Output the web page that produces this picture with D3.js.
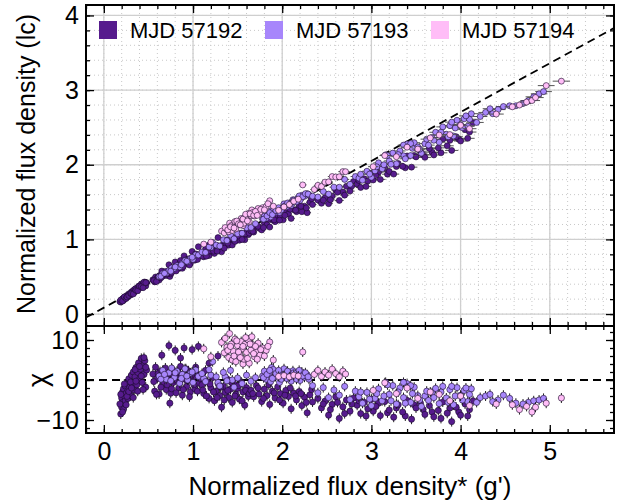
<!DOCTYPE html>
<html><head><meta charset="utf-8">
<script src="https://cdn.jsdelivr.net/npm/d3@7"></script>
<style>
body{margin:0;background:#fff;}
text{font-family:"Liberation Sans",Arial,Helvetica,sans-serif;fill:#000;}
</style>
</head><body><svg id="c" width="624" height="500"></svg>
<script>
const seriesNames = ["MJD 57192", "MJD 57193", "MJD 57194"];
const seriesColors = ["#561b8d", "#a786fb", "#ffbdf7"];
// each point: [flux g' (x), flux lc (y), chi]
const mjd57192 = [
[0.19,0.160,-8.5],[0.20,0.175,-6.8],[0.20,0.189,-4.5],[0.21,0.204,-3.0],[0.21,0.188,-5.6],[0.22,0.183,-7.4],[0.22,0.215,-2.2],[0.23,0.211,-4.0],[0.24,0.233,-1.5],[0.24,0.209,-5.2],[0.25,0.228,-3.3],[0.26,0.250,-0.8],[0.27,0.245,-2.6],[0.27,0.231,-4.6],[0.28,0.270,0.3],[0.29,0.263,-1.8],[0.30,0.254,-3.9],[0.31,0.297,1.2],[0.32,0.288,-0.9],[0.33,0.316,2.0],[0.34,0.289,-2.5],[0.35,0.320,0.8],[0.36,0.344,3.1],[0.37,0.318,-1.2],[0.38,0.349,1.9],[0.39,0.374,4.3],[0.40,0.349,0.2],[0.41,0.375,2.7],[0.42,0.404,5.4],[0.43,0.362,-0.6],[0.44,0.403,3.6],[0.45,0.392,1.4],[0.46,0.428,4.8],[0.47,0.377,-1.8],[0.48,0.421,2.5],
[0.18,0.168,-6.0],[0.19,0.188,-3.6],[0.21,0.174,-8.0],[0.23,0.229,-1.0],[0.25,0.208,-6.2],[0.26,0.228,-4.1],[0.28,0.249,-2.9],[0.30,0.278,-0.5],[0.31,0.274,-2.0],[0.33,0.269,-4.4],[0.35,0.334,2.6],[0.36,0.318,-0.3],[0.38,0.312,-2.8],[0.40,0.374,3.4],[0.42,0.368,1.0],[0.44,0.353,-2.4],[0.45,0.427,5.6],[0.47,0.421,3.2],
[0.55,0.459,1.5],[0.57,0.431,-2.8],[0.58,0.496,3.2],[0.60,0.482,0.4],[0.62,0.455,-3.5],[0.63,0.519,2.1],[0.65,0.576,6.2],[0.66,0.507,-1.0],[0.68,0.550,1.8],[0.70,0.517,-2.4],[0.72,0.567,0.9],[0.73,0.660,8.6],[0.74,0.504,-5.8],[0.75,0.538,-3.3],[0.77,0.620,2.6],[0.78,0.589,-0.6],[0.80,0.698,7.4],[0.82,0.637,1.2],[0.84,0.610,-2.0],[0.86,0.691,3.4],[0.86,0.717,5.5],[0.88,0.613,-3.8],[0.90,0.779,8.0],[0.91,0.684,0.2],[0.93,0.673,-1.6],[0.95,0.738,2.3],[0.97,0.679,-3.0],[0.99,0.839,7.6],[1.00,0.751,0.8],[1.02,0.722,-2.2],[1.04,0.789,1.6],[1.06,0.902,8.4],[1.07,0.774,-0.8],
[0.56,0.448,-0.4],[0.59,0.436,-3.6],[0.61,0.501,1.6],[0.64,0.485,-1.8],[0.67,0.530,0.6],[0.69,0.570,3.0],[0.71,0.537,-1.2],[0.74,0.586,1.4],[0.76,0.557,-2.2],[0.79,0.603,0.0],[0.81,0.577,-3.2],[0.83,0.653,2.0],[0.85,0.632,-0.8],[0.87,0.668,1.0],[0.89,0.637,-2.4],[0.92,0.725,2.8],[0.94,0.698,-0.2],[0.96,0.657,-4.2],[0.98,0.743,1.2],[1.01,0.730,-1.2],[1.03,0.805,3.2],[1.05,0.732,-2.8],[1.08,0.798,0.4],
[1.10,0.788,-1.2],[1.12,0.767,-3.4],[1.14,0.869,2.4],[1.16,0.839,-0.4],[1.18,0.785,-4.6],[1.18,0.924,4.2],[1.20,0.839,-2.0],[1.22,0.894,0.6],[1.24,0.812,-5.2],[1.26,0.864,-2.8],[1.28,0.908,-0.9],[1.28,1.024,6.0],[1.30,0.870,-3.9],[1.32,0.833,-6.8],[1.34,0.935,-1.6],[1.36,0.921,-3.1],[1.38,0.994,0.3],[1.40,0.923,-4.4],[1.42,0.973,-2.3],[1.44,0.925,-5.6],[1.46,1.022,-1.0],[1.48,0.987,-3.6],[1.50,1.028,-2.1],[1.52,0.989,-4.8],[1.54,1.084,-0.5],[1.56,1.048,-3.0],[1.58,0.995,-6.3],[1.60,1.095,-1.9],[1.62,1.063,-4.1],
[1.11,0.774,-2.5],[1.15,0.776,-4.0],[1.19,0.849,-1.0],[1.23,0.842,-3.0],[1.27,0.843,-4.4],[1.31,0.912,-1.8],[1.35,0.882,-5.0],[1.39,0.949,-2.6],[1.43,1.011,-0.6],[1.47,0.973,-4.0],[1.51,1.047,-1.4],[1.55,0.999,-5.2],[1.59,1.075,-2.6],[1.63,1.084,-3.4],
[1.65,1.113,-2.6],[1.68,1.098,-4.2],[1.71,1.175,-1.4],[1.74,1.150,-3.5],[1.77,1.127,-5.4],[1.80,1.213,-2.3],[1.83,1.197,-3.9],[1.86,1.165,-6.1],[1.89,1.259,-2.8],[1.92,1.238,-4.5],[1.95,1.322,-1.7],[1.98,1.301,-3.4],[2.01,1.262,-5.8],[2.04,1.358,-2.6],[2.07,1.340,-4.1],[2.10,1.281,-7.2],[2.13,1.397,-3.3],[2.16,1.372,-5.0],[2.19,1.444,-2.9],[2.22,1.371,-6.4],[2.25,1.445,-4.3],[2.28,1.358,-8.2],[2.31,1.498,-3.7],[2.34,1.467,-5.5],
[1.67,1.109,-3.4],[1.73,1.175,-2.0],[1.79,1.157,-4.6],[1.85,1.270,-1.2],[1.91,1.262,-3.2],[1.97,1.257,-5.0],[2.03,1.322,-3.8],[2.09,1.404,-2.0],[2.15,1.391,-4.0],[2.21,1.444,-3.4],[2.27,1.422,-5.6],[2.33,1.546,-2.4],
[2.40,1.528,-4.6],[2.44,1.484,-7.0],[2.48,1.557,-5.3],[2.52,1.479,-8.8],[2.56,1.581,-6.1],[2.60,1.662,-4.2],[2.64,1.522,-9.6],[2.68,1.634,-6.7],[2.72,1.711,-5.0],[2.76,1.647,-7.8],[2.80,1.775,-4.5],[2.84,1.741,-6.3],[2.88,1.696,-8.4],[2.92,1.812,-5.6],[2.96,1.782,-7.2],[3.00,1.887,-4.8],
[2.46,1.525,-6.0],[2.54,1.531,-7.4],[2.62,1.632,-5.6],[2.70,1.593,-8.4],[2.78,1.715,-6.0],[2.86,1.789,-5.2],[2.94,1.710,-9.0],[3.02,1.796,-7.8],[3.08,1.900,-5.8],[3.18,1.874,-8.2],[3.28,1.976,-7.0],[3.38,1.959,-9.0],[3.48,2.124,-6.2],[3.58,2.135,-7.4],[3.68,2.169,-8.0],[3.78,2.160,-9.6],[3.88,2.327,-7.0],[3.98,2.342,-8.0],[4.08,2.354,-9.0],
[3.05,1.855,-6.6],[3.10,1.804,-8.9],[3.15,1.956,-5.4],[3.20,1.911,-7.5],[3.25,1.875,-9.3],[3.30,2.017,-6.2],[3.35,1.979,-8.0],[3.40,2.118,-5.1],[3.45,1.968,-9.8],[3.50,2.105,-7.0],[3.55,2.181,-5.8],[3.60,2.099,-8.6],[3.65,2.217,-6.4],[3.70,2.131,-9.2],[3.75,2.226,-7.6],[3.80,2.343,-5.5],[3.85,2.254,-8.3],[3.90,2.192,-10.4],[3.95,2.376,-6.8],[4.00,2.318,-8.8],[4.05,2.471,-6.0],[4.10,2.438,-7.4],[4.14,2.561,-5.2]
];
const mjd57193 = [
[0.62,0.501,1.0],[0.66,0.543,2.4],[0.70,0.546,0.2],[0.73,0.584,1.8],[0.76,0.618,3.0],[0.79,0.610,0.6],[0.82,0.649,2.2],[0.85,0.632,-0.8],[0.88,0.679,1.4],[0.91,0.718,2.8],[0.94,0.701,0.0],[0.97,0.744,1.7],[1.00,0.732,-0.6],[1.03,0.795,2.5],[1.06,0.792,0.9],
[0.64,0.506,0.2],[0.68,0.545,1.4],[0.75,0.574,-0.2],[0.80,0.631,1.8],[0.87,0.660,0.4],[0.93,0.707,1.0],[0.99,0.761,2.0],[1.12,0.825,0.4],[1.20,0.890,1.2],[1.28,0.913,-0.6],[1.36,0.990,0.8],[1.44,1.028,0.0],
[1.10,0.830,1.6],[1.14,0.826,-0.4],[1.18,0.899,2.6],[1.22,0.959,4.6],[1.26,0.924,0.8],[1.30,0.911,-1.5],[1.34,0.996,1.9],[1.38,0.985,-0.2],[1.42,1.059,2.4],[1.46,1.008,-1.8],[1.50,1.077,0.5],[1.55,1.083,-0.9],[1.60,1.157,1.2],[1.65,1.160,-0.3],[1.70,1.211,0.6],
[1.78,1.273,1.0],[1.80,1.312,2.2],[1.82,1.282,0.2],[1.85,1.333,1.6],[1.87,1.301,-0.4],[1.88,1.387,3.1],[1.90,1.389,2.6],[1.92,1.361,0.8],[1.95,1.407,1.9],[1.97,1.361,-0.6],[2.00,1.424,1.2],[2.02,1.476,2.8],[2.05,1.438,0.4],[2.07,1.483,1.7],[2.10,1.453,-0.3],[2.12,1.532,2.3],[2.15,1.516,0.9],[2.17,1.545,1.5],[2.20,1.523,-0.1],[2.22,1.591,2.0],[2.25,1.577,0.7],[2.28,1.613,1.3],[2.30,1.597,0.2],
[1.79,1.271,0.6],[1.83,1.315,1.4],[1.86,1.358,2.4],[1.89,1.332,0.4],[1.93,1.386,1.6],[1.96,1.425,2.4],[1.99,1.393,0.2],[2.03,1.449,1.4],[2.06,1.488,2.2],[2.09,1.474,0.8],[2.13,1.526,1.8],[2.16,1.505,0.2],[2.19,1.582,2.4],[2.23,1.572,1.0],[2.26,1.613,1.8],[2.29,1.607,0.8],
[2.34,1.579,-1.4],[2.40,1.567,-3.2],[2.46,1.642,-1.9],[2.52,1.607,-4.4],[2.58,1.700,-2.5],[2.64,1.699,-3.8],[2.70,1.804,-1.6],[2.76,1.738,-4.9],[2.82,1.842,-2.8],
[2.86,1.821,-4.2],[2.90,1.793,-5.8],[2.95,1.913,-3.1],[3.00,1.832,-6.4],[3.04,1.918,-4.6],[3.08,2.026,-2.2],[3.12,1.946,-5.2],[3.16,2.133,-0.6],[3.20,2.051,-3.6],[3.24,2.156,-1.4],[3.28,2.013,-6.0],[3.32,2.185,-2.0],[3.36,2.120,-4.4],[3.40,2.278,-0.9],[3.44,2.123,-5.6],[3.48,2.295,-1.8],[3.52,2.238,-3.9],[3.56,2.155,-6.6],[3.60,2.283,-4.0],[3.64,2.263,-5.1],[3.68,2.365,-3.2],[3.72,2.435,-2.1],[3.76,2.302,-5.9],[3.80,2.507,-1.6],[3.84,2.409,-4.5],[3.88,2.524,-2.4],[3.92,2.385,-6.2],[3.96,2.596,-1.9],[4.00,2.538,-3.8],[4.04,2.616,-2.6],[4.08,2.515,-5.4],[4.12,2.684,-2.2],
[2.88,1.873,-3.0],[2.98,1.875,-4.8],[3.06,1.972,-3.4],[3.14,2.000,-4.0],[3.22,2.006,-5.2],[3.30,2.136,-3.0],[3.38,2.080,-5.8],[3.46,2.220,-3.4],[3.54,2.207,-5.0],[3.62,2.343,-2.8],[3.70,2.328,-4.4],[3.78,2.436,-3.0],[3.86,2.374,-5.6],[3.94,2.492,-4.0],[4.02,2.497,-5.0],[4.10,2.609,-3.6],[3.18,2.125,-1.2],[3.36,2.263,-0.6],[3.44,2.284,-1.4],[3.90,2.571,-1.6],[4.06,2.655,-2.0],
[4.18,2.567,-5.6],[4.22,2.646,-4.4],[4.28,2.701,-4.0],[4.33,2.751,-3.6],[4.36,2.684,-5.4],[4.42,2.739,-5.0],[4.48,2.780,-3.8],[4.55,2.790,-4.6],[4.62,2.790,-5.8],[4.70,2.820,-6.0],[4.76,2.860,-5.6],[4.82,2.910,-5.2],[4.88,2.950,-5.0],[4.93,2.980,-4.6]
];
const mjd57194 = [
[1.12,0.937,7.8],[1.20,0.964,5.8],[1.32,1.111,9.4],[1.35,1.088,6.8],[1.38,1.135,8.2],[1.40,1.103,5.6],[1.41,1.218,11.6],[1.43,1.186,9.0],[1.44,1.120,5.0],[1.45,1.168,7.2],[1.47,1.239,10.2],[1.48,1.141,4.6],[1.50,1.231,8.6],[1.52,1.204,6.4],[1.54,1.280,9.6],[1.55,1.252,7.8],[1.56,1.185,4.0],[1.57,1.216,5.2],[1.58,1.296,8.9],[1.60,1.271,6.9],[1.62,1.348,10.0],[1.63,1.238,4.2],[1.65,1.319,7.5],[1.66,1.395,10.8],[1.67,1.361,8.8],[1.69,1.313,5.8],[1.71,1.353,7.0],[1.73,1.414,9.2],[1.75,1.364,6.2],[1.78,1.425,8.0],[1.82,1.441,7.4],[1.86,1.518,9.5],[1.90,1.445,5.0],
[1.36,1.159,10.4],[1.39,1.128,7.4],[1.42,1.168,8.4],[1.46,1.153,6.0],[1.49,1.246,9.8],[1.51,1.208,7.0],[1.53,1.195,5.6],[1.56,1.272,8.4],[1.59,1.337,10.6],[1.61,1.248,5.4],[1.64,1.343,9.0],[1.68,1.323,6.6],[1.70,1.375,8.4],[1.72,1.322,5.2],[1.76,1.402,7.6],[1.80,1.396,6.0],[1.84,1.478,8.4],
[1.96,1.390,0.9],[2.02,1.435,1.1],[2.08,1.467,0.8],[2.13,1.510,1.2],[2.18,1.539,1.0],[2.23,1.730,7.0],
[2.36,1.669,1.4],[2.40,1.724,2.4],[2.44,1.709,0.9],[2.48,1.767,2.0],[2.52,1.771,1.2],[2.56,1.842,2.7],[2.60,1.836,1.6],[2.64,1.839,0.8],[2.68,1.908,2.2],[2.71,1.907,1.5],
[3.02,1.974,-2.6],[3.15,2.123,-0.7],[3.28,2.108,-3.4],[3.40,2.236,-2.0],[3.52,2.210,-4.6],[3.66,2.360,-3.0],[3.76,2.398,-3.6],[3.88,2.404,-5.2],[4.00,2.529,-4.0],[4.10,2.483,-6.4],[4.40,2.679,-6.0],[4.58,2.776,-6.2],[4.66,2.800,-7.4],[4.74,2.840,-6.6],[4.80,2.860,-8.0],[4.84,2.900,-6.8],[4.96,3.060,-5.8],[5.13,3.120,-4.5]
];
const allSeries = [mjd57192, mjd57193, mjd57194];
const xMajorTicks = [0, 1, 2, 3, 4, 5];
const yTopMajorTicks = [0, 1, 2, 3, 4];
const yBotMajorTicks = [-10, 0, 10];
const refSlope = 0.655, refIntercept = 0.085;   // dashed reference line in the upper panel
const chiErr = 1.25, xErrFrac = 0.019, yErrFrac = 0.012;

const svg = d3.select("#c");
const L = 86, R = 614, T = 5, M = 326, B = 433;
const x = d3.scaleLinear().domain([-0.2, 5.72]).range([L, R]);
const yT = d3.scaleLinear().domain([-0.16, 4.14]).range([M, T]);
const yB = d3.scaleLinear().domain([-13.25, 13.5]).range([B, M]);
const fmtInt = d3.format("d");

const defs = svg.append("defs");
defs.append("clipPath").attr("id","cpT").append("rect").attr("x",L).attr("y",T).attr("width",R-L).attr("height",M-T);
defs.append("clipPath").attr("id","cpB").append("rect").attr("x",L).attr("y",M).attr("width",R-L).attr("height",B-M);

const xMinor = d3.range(-0.2, 5.71, 0.2).map(v => +v.toFixed(1));
const yTMinor = d3.range(0, 4.15, 0.2).map(v => +v.toFixed(1));
const yBMinor = d3.range(-12, 13, 2);

// grid (upper panel only)
const grid = svg.append("g").attr("clip-path","url(#cpT)");
grid.selectAll(".gxm").data(xMinor).enter().append("line")
  .attr("x1", d=>x(d)).attr("x2", d=>x(d)).attr("y1", T).attr("y2", M)
  .attr("stroke","#c8c8c8").attr("stroke-width",1).attr("stroke-dasharray","1,3");
grid.selectAll(".gym").data(yTMinor).enter().append("line")
  .attr("y1", d=>yT(d)).attr("y2", d=>yT(d)).attr("x1", L).attr("x2", R)
  .attr("stroke","#c8c8c8").attr("stroke-width",1).attr("stroke-dasharray","1,3");
grid.selectAll(".gx").data(xMajorTicks).enter().append("line")
  .attr("x1", d=>x(d)).attr("x2", d=>x(d)).attr("y1", T).attr("y2", M)
  .attr("stroke","#cfcfcf").attr("stroke-width",1.3);
grid.selectAll(".gy").data(yTopMajorTicks).enter().append("line")
  .attr("y1", d=>yT(d)).attr("y2", d=>yT(d)).attr("x1", L).attr("x2", R)
  .attr("stroke","#cfcfcf").attr("stroke-width",1.3);

// reference lines
svg.append("line").attr("clip-path","url(#cpT)")
  .attr("x1", x(-0.2)).attr("y1", yT(refIntercept + refSlope*-0.2))
  .attr("x2", x(5.72)).attr("y2", yT(refIntercept + refSlope*5.72))
  .attr("stroke","#000").attr("stroke-width",1.8).attr("stroke-dasharray","8,5");
svg.append("line").attr("x1", L).attr("x2", R).attr("y1", yB(0)).attr("y2", yB(0))
  .attr("stroke","#000").attr("stroke-width",1.8).attr("stroke-dasharray","8,5");

// data
const gT = svg.append("g").attr("clip-path","url(#cpT)");
const gB = svg.append("g").attr("clip-path","url(#cpB)");
allSeries.forEach((data, i) => {
  const col = seriesColors[i];
  gT.append("g").selectAll("line").data(data).enter().append("line")
    .attr("x1", d=>x(d[0]*(1-xErrFrac))).attr("x2", d=>x(d[0]*(1+xErrFrac)))
    .attr("y1", d=>yT(d[1])).attr("y2", d=>yT(d[1]))
    .attr("stroke","#555").attr("stroke-width",1);
  gT.append("g").selectAll("line").data(data).enter().append("line")
    .attr("x1", d=>x(d[0])).attr("x2", d=>x(d[0]))
    .attr("y1", d=>yT(d[1]*(1-yErrFrac))).attr("y2", d=>yT(d[1]*(1+yErrFrac)))
    .attr("stroke","#555").attr("stroke-width",1);
  gT.append("g").selectAll("circle").data(data).enter().append("circle")
    .attr("cx", d=>x(d[0])).attr("cy", d=>yT(d[1])).attr("r", 3)
    .attr("fill", col).attr("stroke","#1a0a2a").attr("stroke-width",0.6);

  gB.append("g").selectAll("line").data(data).enter().append("line")
    .attr("x1", d=>x(d[0])).attr("x2", d=>x(d[0]))
    .attr("y1", d=>yB(d[2]-chiErr)).attr("y2", d=>yB(d[2]+chiErr))
    .attr("stroke","#222").attr("stroke-width",1);
  gB.append("g").selectAll("circle").data(data).enter().append("circle")
    .attr("cx", d=>x(d[0])).attr("cy", d=>yB(d[2])).attr("r", 3.1)
    .attr("fill", col).attr("stroke","#1a0a2a").attr("stroke-width",0.6);
});

// axes with inward ticks
function ax(gen, tx, ty, vals, size, withLabels, pad) {
  const g = svg.append("g").attr("transform", `translate(${tx},${ty})`)
    .call(gen.tickValues(vals).tickSize(size).tickPadding(pad||3).tickFormat(withLabels ? fmtInt : ""));
  g.select(".domain").remove();
  g.selectAll(".tick line").attr("stroke","#000").attr("stroke-width",1.3);
  g.selectAll("text").attr("font-size", 25).attr("font-family",'"Liberation Sans",Arial,sans-serif').attr("fill","#000");
  return g;
}
// upper panel
ax(d3.axisBottom(x), 0, M, xMinor, -4);
ax(d3.axisBottom(x), 0, M, xMajorTicks, -8);
ax(d3.axisTop(x), 0, T, xMinor, -4);
ax(d3.axisTop(x), 0, T, xMajorTicks, -8);
ax(d3.axisLeft(yT), L, 0, yTMinor, -4);
ax(d3.axisLeft(yT), L, 0, yTopMajorTicks, -8, true, 7);
ax(d3.axisRight(yT), R, 0, yTMinor, -4);
ax(d3.axisRight(yT), R, 0, yTopMajorTicks, -8);
// lower panel
ax(d3.axisTop(x), 0, M, xMinor, -4);
ax(d3.axisTop(x), 0, M, xMajorTicks, -8);
ax(d3.axisBottom(x), 0, B, xMinor, -4);
ax(d3.axisBottom(x), 0, B, xMajorTicks, -8, true, 9);
ax(d3.axisLeft(yB), L, 0, yBMinor, -4);
ax(d3.axisLeft(yB), L, 0, yBotMajorTicks, -8, true, 7);
ax(d3.axisRight(yB), R, 0, yBMinor, -4);
ax(d3.axisRight(yB), R, 0, yBotMajorTicks, -8);

// frames
svg.append("rect").attr("x",L).attr("y",T).attr("width",R-L).attr("height",M-T)
  .attr("fill","none").attr("stroke","#000").attr("stroke-width",2);
svg.append("rect").attr("x",L).attr("y",M).attr("width",R-L).attr("height",B-M)
  .attr("fill","none").attr("stroke","#000").attr("stroke-width",2);

// axis labels
svg.append("text").attr("transform","translate(35,164) rotate(-90)")
  .attr("text-anchor","middle").attr("font-size",25).text("Normalized flux density (lc)");
svg.append("text").attr("transform","translate(47,380) rotate(-90)")
  .attr("text-anchor","middle").attr("font-size",27).text("χ");
svg.append("text").attr("x", 350).attr("y", 495)
  .attr("text-anchor","middle").attr("font-size",26).text("Normalized flux density* (g')");

// legend
const legX = [99, 265, 431];
const leg = svg.append("g");
seriesNames.forEach((n, i) => {
  leg.append("rect").attr("x", legX[i]).attr("y", 21).attr("width", 18).attr("height", 18).attr("fill", seriesColors[i]);
  leg.append("text").attr("x", legX[i] + 31).attr("y", 38).attr("font-size", 22).text(n);
});
</script>
</body></html>
